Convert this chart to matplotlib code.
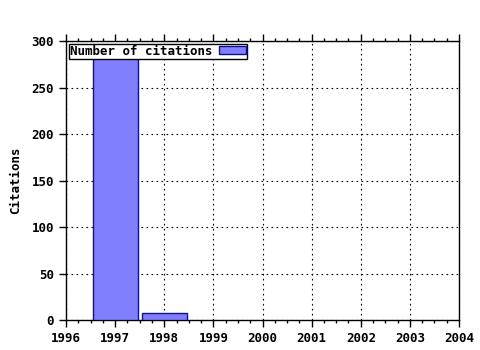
import matplotlib
matplotlib.use("Agg")
import matplotlib.pyplot as plt
from matplotlib.ticker import MultipleLocator

years = [1997, 1998]
citations = [285, 7]
series_label = "Number of citations"

plt.rcParams['font.family'] = ['DejaVu Sans Mono']
plt.rcParams['font.weight'] = 'bold'

fig = plt.figure(figsize=(4.8, 3.5), dpi=100)
ax = fig.add_axes([0.1375, 0.0857, 0.8188, 0.7971])

ax.bar(years, citations, width=0.92, color='#8080ff', edgecolor='#10108c',
       linewidth=1.0, label=series_label, zorder=3)

ax.set_xlim(1996, 2004)
ax.set_ylim(0, 300)
ax.xaxis.set_major_locator(MultipleLocator(1))
ax.xaxis.set_minor_locator(MultipleLocator(0.25))
ax.yaxis.set_major_locator(MultipleLocator(50))

ax.grid(True, which='major', color='black', linestyle=(0, (1.5, 3)), linewidth=0.8, zorder=0)
ax.tick_params(axis='x', which='both', direction='out', top=True, labelsize=9, width=1, color='black')
ax.tick_params(axis='x', which='major', length=5)
ax.tick_params(axis='x', which='minor', length=2)
ax.tick_params(axis='y', which='major', direction='out', length=5, labelsize=9, width=1)
for lbl in ax.get_xticklabels() + ax.get_yticklabels():
    lbl.set_fontweight('bold')
for sp in ax.spines.values():
    sp.set_linewidth(1.0)

ax.set_ylabel("Citations", fontsize=9, fontweight='bold', labelpad=7)

leg = ax.legend(loc='upper left', markerfirst=False, fancybox=False, framealpha=1,
                edgecolor='black', fontsize=9, borderpad=0.1, handlelength=2.2,
                handleheight=0.6, borderaxespad=0.2, handletextpad=0.5)
leg.get_frame().set_linewidth(1.0)
for t in leg.get_texts():
    t.set_fontweight('bold')

fig.savefig("out.png", dpi=100)
